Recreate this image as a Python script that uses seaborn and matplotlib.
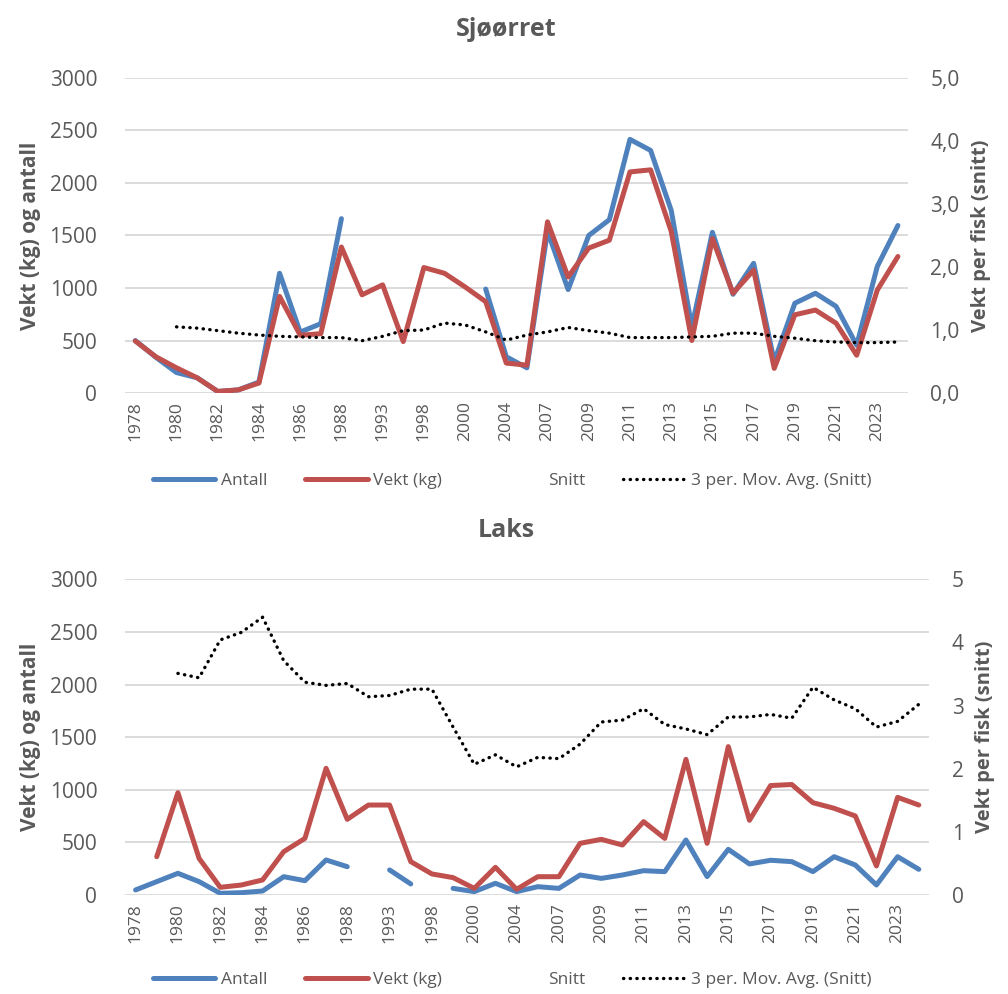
import numpy as np
import pandas as pd
import matplotlib
matplotlib.use("Agg")
import matplotlib.pyplot as plt
import seaborn as sns
from matplotlib.lines import Line2D
from matplotlib.ticker import FuncFormatter

nan = np.nan

# categories (every other label is shown on the axis)
years = [1978, 1979, 1980, 1981, 1982, 1983, 1984, 1985, 1986, 1987, 1988,
         1990, 1993, 1995, 1998, 1999, 2000, 2002, 2004, 2005,
         2007, 2008, 2009, 2010, 2011, 2012, 2013, 2014, 2015, 2016,
         2017, 2018, 2019, 2020, 2021, 2022, 2023, 2024]

# Sjøørret
sjo_antall = [500, 340, 195, 145, 15, 30, 105, 1140, 580, 660, 1660,
              nan, nan, nan, nan, nan, nan, 990, 345, 240,
              1540, 985, 1500, 1650, 2415, 2310, 1740, 630, 1530, 940,
              1235, 300, 855, 950, 825, 455, 1205, 1595]
sjo_vekt = [495, 345, 240, 145, 15, 30, 95, 920, 550, 565, 1390,
            935, 1030, 490, 1195, 1140, 1010, 870, 285, 265,
            1630, 1105, 1380, 1455, 2105, 2125, 1540, 500, 1470, 950,
            1170, 235, 745, 790, 665, 360, 980, 1300]
sjo_mavg = [nan, nan, 1.05, 1.03, 0.99, 0.95, 0.92, 0.90, 0.89, 0.88, 0.88,
            0.83, 0.90, 0.99, 1.00, 1.11, 1.08, 0.97, 0.84, 0.92,
            0.97, 1.04, 0.99, 0.95, 0.88, 0.88, 0.88, 0.89, 0.90, 0.95,
            0.95, 0.90, 0.87, 0.83, 0.81, 0.80, 0.80, 0.81]

# Laks
laks_antall = [48, 127, 206, 127, 16, 22, 38, 174, 136, 333, 269,
               nan, 238, 105, nan, 63, 32, 111, 32, 79,
               63, 190, 158, 190, 231, 222, 523, 175, 434, 295,
               330, 317, 222, 364, 285, 95, 364, 244]
laks_vekt = [nan, 364, 972, 348, 73, 95, 143, 412, 538, 1204, 719,
             855, 855, 317, 200, 165, 63, 263, 54, 174,
             174, 491, 529, 475, 697, 538, 1289, 491, 1410, 710,
             1040, 1050, 877, 824, 751, 276, 928, 855]
laks_mavg = [nan, nan, 3.51, 3.44, 4.04, 4.16, 4.40, 3.71, 3.37, 3.32, 3.35,
             3.14, 3.16, 3.26, 3.26, 2.66, 2.07, 2.22, 2.03, 2.18,
             2.16, 2.39, 2.74, 2.77, 2.95, 2.70, 2.63, 2.54, 2.82, 2.82,
             2.86, 2.80, 3.29, 3.09, 2.95, 2.66, 2.75, 3.02]

BLUE = "#4F81BD"
RED = "#C0504D"
GREY = "#595959"
GRID = "#D9D9D9"

sns.set_style("white")
plt.rcParams["font.family"] = ["Open Sans", "DejaVu Sans"]


def seg_frame(vals):
    # split series at gaps so lines break like in the original
    df = pd.DataFrame({"i": np.arange(len(vals)), "v": vals})
    isna = df["v"].isna()
    df["seg"] = isna.cumsum()
    return df[~isna]


def line(ax, vals, **kw):
    sns.lineplot(data=seg_frame(vals), x="i", y="v", units="seg",
                 estimator=None, ax=ax, legend=False, **kw)


def panel(ax, antall, vekt, mavg, right_fmt):
    line(ax, antall, color=BLUE, linewidth=3.6, solid_capstyle="round")
    line(ax, vekt, color=RED, linewidth=3.6, solid_capstyle="round")
    ax.set_ylim(0, 3000)
    ax.set_yticks(range(0, 3001, 500))
    ax.set_xlim(-0.5, len(years) - 0.5)
    ax.set_xticks(range(0, len(years), 2))
    ax.set_xticklabels([str(years[k]) for k in range(0, len(years), 2)],
                       rotation=90, fontsize=12.5, color=GREY)
    ax.tick_params(axis="y", labelsize=15, colors=GREY, length=0, pad=20)
    ax.tick_params(axis="x", length=0, pad=6)
    ax.yaxis.grid(True, color=GRID, linewidth=1.3)
    ax.set_axisbelow(True)
    for s in ax.spines.values():
        s.set_visible(False)
    ax.set_xlabel("")
    ax.set_ylabel("Vekt (kg) og antall", fontsize=15, fontweight="bold",
                  color=GREY, labelpad=6)

    ax2 = ax.twinx()
    line(ax2, mavg, color="black", linewidth=2.4,
         linestyle=(0, (0.1, 1.9)), dash_capstyle="round")
    ax2.set_ylim(0, 5)
    ax2.set_yticks(range(0, 6))
    ax2.yaxis.set_major_formatter(FuncFormatter(right_fmt))
    ax2.tick_params(axis="y", labelsize=15, colors=GREY, length=0, pad=16)
    for s in ax2.spines.values():
        s.set_visible(False)
    ax2.set_ylabel("Vekt per fisk (snitt)", fontsize=14.5, fontweight="bold",
                   color=GREY, labelpad=8)
    ax2.set_xlabel("")
    return ax2


fig = plt.figure(figsize=(10.08, 9.94), dpi=100)
ax_top = fig.add_axes([0.124, 0.6046, 0.777, 0.317])
ax_bot = fig.add_axes([0.124, 0.0996, 0.798, 0.3176])

panel(ax_top, sjo_antall, sjo_vekt, sjo_mavg,
      lambda v, p: f"{v:.1f}".replace(".", ","))
panel(ax_bot, laks_antall, laks_vekt, laks_mavg,
      lambda v, p: f"{v:.0f}")

fig.text(0.502, 0.970, "Sjøørret", ha="center", va="center",
         fontsize=18, fontweight="bold", color=GREY)
fig.text(0.502, 0.466, "Laks", ha="center", va="center",
         fontsize=18, fontweight="bold", color=GREY)

handles = [
    Line2D([], [], color=BLUE, linewidth=3.6, solid_capstyle="round"),
    Line2D([], [], color=RED, linewidth=3.6, solid_capstyle="round"),
    Line2D([], [], color="none"),
    Line2D([], [], color="black", linewidth=2.4, linestyle=(0, (0.1, 1.9)),
           dash_capstyle="round"),
]
labels = ["Antall", "Vekt (kg)", "Snitt", "3 per. Mov. Avg. (Snitt)"]
for yy in (0.516, 0.014):
    fig.legend(handles, labels, loc="center", bbox_to_anchor=(0.508, yy),
               ncol=4, frameon=False, handlelength=3.6, handletextpad=0.3,
               columnspacing=2.2, fontsize=12.5, labelcolor=GREY)

fig.savefig("out.png", dpi=100)
